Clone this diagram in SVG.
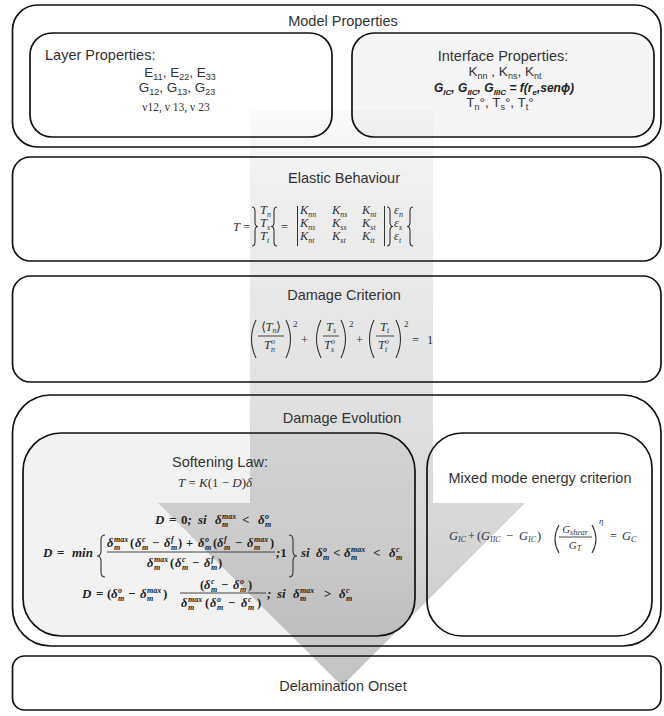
<svg xmlns="http://www.w3.org/2000/svg" width="664" height="716" viewBox="0 0 664 716">
<defs>
<linearGradient id="ag" gradientUnits="userSpaceOnUse" x1="0" y1="110" x2="0" y2="686">
<stop offset="0" stop-color="#fbfbfb"/>
<stop offset="0.15" stop-color="#eeeeee"/>
<stop offset="0.5" stop-color="#e1e1e1"/>
<stop offset="0.75" stop-color="#d6d6d6"/>
<stop offset="1" stop-color="#c2c2c2"/>
</linearGradient>
<style>
.box{fill:none;stroke:#111;stroke-width:1.7}
.t{font-family:"Liberation Sans",Arial,sans-serif;font-size:14.5px;fill:#333}
.t2{font-family:"Liberation Sans",Arial,sans-serif;font-size:13.5px;fill:#333}
.tb{font-family:"Liberation Sans",Arial,sans-serif;font-size:12px;fill:#222;font-weight:bold;font-style:italic}
.sb{font-size:9px}
.m{font-family:"Liberation Serif","Times New Roman",serif;font-style:italic;font-size:12.5px;fill:#333}
.u{font-style:normal}
.mb{font-family:"Liberation Serif","Times New Roman",serif;font-style:italic;font-weight:bold;font-size:13px;fill:#222}
.ss{font-size:8px}
.bar{stroke:#333;stroke-width:0.9}
.vb{stroke:#333;stroke-width:1}
.dl{fill:none;stroke:#333;stroke-width:1.1}
</style>
</defs>
<rect width="664" height="716" fill="#ffffff"/>

<g id="connectors">
<polygon points="250,110 433,110 433,503 525,503 342,686 158,503 250,503" fill="url(#ag)"/>
</g>

<g id="model-properties">
<rect class="box" x="12.5" y="5" width="648.5" height="142" rx="25"/>
<text class="t" x="343" y="26" text-anchor="middle">Model Properties</text>
</g>

<g id="layer-properties">
<rect class="box" x="30" y="33" width="302" height="104" rx="22"/>
<text class="t" x="45" y="60">Layer Properties:</text>
<text class="t2" x="180" y="77" text-anchor="middle">E<tspan class="sb" dy="2.5">11</tspan><tspan dy="-2.5">, E</tspan><tspan class="sb" dy="2.5">22</tspan><tspan dy="-2.5">, E</tspan><tspan class="sb" dy="2.5">33</tspan></text>
<text class="t2" x="177" y="92" text-anchor="middle">G<tspan class="sb" dy="2.5">12</tspan><tspan dy="-2.5">, G</tspan><tspan class="sb" dy="2.5">13</tspan><tspan dy="-2.5">, G</tspan><tspan class="sb" dy="2.5">23</tspan></text>
<text x="176" y="111" text-anchor="middle" style="font-family:'Liberation Serif',serif;font-size:11.5px;fill:#333">ν12, ν 13, ν 23</text>
</g>

<g id="interface-properties">
<rect class="box" x="352" y="33" width="302" height="104" rx="22" style="fill:#000;fill-opacity:0.04"/>
<text class="t" x="503" y="61" text-anchor="middle">Interface Properties:</text>
<text class="t2" x="505" y="76" text-anchor="middle">K<tspan class="sb" dy="2.5">nn</tspan><tspan dy="-2.5"> , K</tspan><tspan class="sb" dy="2.5">ns</tspan><tspan dy="-2.5">, K</tspan><tspan class="sb" dy="2.5">nt</tspan></text>
<text class="tb" x="504" y="92" text-anchor="middle">G<tspan class="sb" dy="2.5" style="font-size:8px">IC</tspan><tspan dy="-2.5">, G</tspan><tspan class="sb" dy="2.5" style="font-size:8px">IIC</tspan><tspan dy="-2.5">, G</tspan><tspan class="sb" dy="2.5" style="font-size:8px">IIIC</tspan><tspan dy="-2.5"> = f(r</tspan><tspan class="sb" dy="2.5" style="font-size:8px">e</tspan><tspan dy="-2.5">,senϕ)</tspan></text>
<text class="t2" x="500" y="107" text-anchor="middle">T<tspan class="sb" dy="2.5">n</tspan><tspan dy="-2.5">°, T</tspan><tspan class="sb" dy="2.5">s</tspan><tspan dy="-2.5">°, T</tspan><tspan class="sb" dy="2.5">t</tspan><tspan dy="-2.5">°</tspan></text>
</g>

<g id="elastic-behaviour">
<rect class="box" x="12.5" y="157" width="648.5" height="104" rx="18"/>
<text class="t" x="344" y="183" text-anchor="middle">Elastic Behaviour</text>
<text class="m" x="233" y="231">T</text>
<text class="m u" x="243" y="231">=</text>
<path class="dl" d="M252,207 Q255,207 255,211 L255,222 Q255,226.5 258,226.5 Q255,226.5 255,231 L255,242 Q255,246 252,246"/>
<text class="m" x="260" y="214">T<tspan class="ss" dy="2.5">n</tspan></text>
<text class="m" x="260" y="227">T<tspan class="ss" dy="2.5">s</tspan></text>
<text class="m" x="260" y="240">T<tspan class="ss" dy="2.5">t</tspan></text>
<path class="dl" d="M277,207 Q274,207 274,211 L274,222 Q274,226.5 271,226.5 Q274,226.5 274,231 L274,242 Q274,246 277,246"/>
<text class="m u" x="281" y="231">=</text>
<line class="vb" x1="297.5" y1="206" x2="297.5" y2="246"/>
<text class="m" x="300" y="214">K<tspan class="ss" dy="2.5">nn</tspan></text>
<text class="m" x="332" y="214">K<tspan class="ss" dy="2.5">ns</tspan></text>
<text class="m" x="362" y="214">K<tspan class="ss" dy="2.5">nt</tspan></text>
<text class="m" x="300" y="227">K<tspan class="ss" dy="2.5">ns</tspan></text>
<text class="m" x="332" y="227">K<tspan class="ss" dy="2.5">ss</tspan></text>
<text class="m" x="362" y="227">K<tspan class="ss" dy="2.5">st</tspan></text>
<text class="m" x="300" y="240">K<tspan class="ss" dy="2.5">nt</tspan></text>
<text class="m" x="332" y="240">K<tspan class="ss" dy="2.5">st</tspan></text>
<text class="m" x="362" y="240">K<tspan class="ss" dy="2.5">tt</tspan></text>
<line class="vb" x1="384.5" y1="206" x2="384.5" y2="246"/>
<path class="dl" d="M387,207 Q390,207 390,211 L390,222 Q390,226.5 393,226.5 Q390,226.5 390,231 L390,242 Q390,246 387,246"/>
<text class="m" x="394" y="214">ε<tspan class="ss" dy="2.5">n</tspan></text>
<text class="m" x="394" y="227">ε<tspan class="ss" dy="2.5">s</tspan></text>
<text class="m" x="394" y="240">ε<tspan class="ss" dy="2.5">t</tspan></text>
<path class="dl" d="M413,207 Q410,207 410,211 L410,222 Q410,226.5 407,226.5 Q410,226.5 410,231 L410,242 Q410,246 413,246"/>
</g>

<g id="damage-criterion">
<rect class="box" x="12.5" y="276" width="648.5" height="106" rx="18"/>
<text class="t" x="344" y="300" text-anchor="middle">Damage Criterion</text>
<path class="dl" d="M256,320 Q247,339 256,358"/>
<text class="m" x="271" y="331" text-anchor="middle"><tspan class="u">⟨</tspan>T<tspan class="ss" dy="2">n</tspan><tspan class="u" dy="-2">⟩</tspan></text>
<line class="bar" x1="258" y1="336" x2="284" y2="336"/>
<text class="m" x="264" y="349">T</text><text class="m ss" x="271" y="344">o</text><text class="m ss" x="271" y="352">n</text>
<path class="dl" d="M286,320 Q295,339 286,358"/>
<text class="m u" x="293" y="327" style="font-size:9px">2</text>
<text class="m u" x="301" y="344">+</text>
<path class="dl" d="M321,320 Q312,339 321,358"/>
<text class="m" x="326" y="331">T<tspan class="ss" dy="2">s</tspan></text>
<line class="bar" x1="323" y1="336" x2="339" y2="336"/>
<text class="m" x="324" y="349">T</text><text class="m ss" x="331" y="344">o</text><text class="m ss" x="331" y="352">s</text>
<path class="dl" d="M341,320 Q350,339 341,358"/>
<text class="m u" x="349" y="327" style="font-size:9px">2</text>
<text class="m u" x="356" y="344">+</text>
<path class="dl" d="M374,320 Q365,339 374,358"/>
<text class="m" x="380" y="331">T<tspan class="ss" dy="2">t</tspan></text>
<line class="bar" x1="376" y1="336" x2="394" y2="336"/>
<text class="m" x="378" y="349">T</text><text class="m ss" x="385" y="344">o</text><text class="m ss" x="385" y="352">t</text>
<path class="dl" d="M396,320 Q405,339 396,358"/>
<text class="m u" x="404" y="327" style="font-size:9px">2</text>
<text class="m u" x="412" y="344">=</text>
<text class="m u" x="427" y="344">1</text>
</g>

<g id="damage-evolution">
<rect class="box" x="12.5" y="395" width="648.5" height="251" rx="38"/>
<text class="t" x="342" y="423" text-anchor="middle">Damage Evolution</text>
</g>

<g id="softening-law">
<rect class="box" x="23" y="433" width="392" height="203" rx="38" style="fill:#000;fill-opacity:0.05"/>
<text class="t" x="220" y="467" text-anchor="middle">Softening Law:</text>
<text class="m" x="215" y="487" text-anchor="middle" style="font-size:13px">T<tspan class="u"> = </tspan>K<tspan class="u">(1 − </tspan>D<tspan class="u">)</tspan>δ</text>
<g class="mb">
<text x="155" y="524">D</text><text x="169" y="524" class="u">=</text><text x="181" y="524"><tspan class="u">0</tspan>;</text><text x="198" y="524">si</text>
<text x="215" y="524">δ</text><text class="ss" x="222" y="519">max</text><text class="ss" x="222" y="527">m</text>
<text x="242" y="524" class="u">&lt;</text>
<text x="258" y="524">δ</text><text class="ss" x="265" y="519">o</text><text class="ss" x="265" y="527">m</text>
</g>
<g class="mb">
<text x="43" y="557">D</text><text x="57" y="557" class="u">=</text><text x="72" y="557">min</text>
<path class="dl" d="M105,535 Q101,535 101,540 L101,551 Q101,556 97,556 Q101,556 101,561 L101,572 Q101,577 105,577"/>
<g style="font-size:12.5px">
<text x="107" y="547">δ</text><text class="ss" x="114" y="542">max</text><text class="ss" x="114" y="550">m</text>
<text class="u" x="130" y="547">(</text><text x="135" y="547">δ</text><text class="ss" x="142" y="542">c</text><text class="ss" x="142" y="550">m</text>
<text class="u" x="152" y="547">−</text><text x="164" y="547">δ</text><text class="ss" x="171" y="542">f</text><text class="ss" x="171" y="550">m</text><text class="u" x="178" y="547">)</text>
<text class="u" x="186" y="547">+</text>
<text x="198" y="547">δ</text><text class="ss" x="205" y="542">o</text><text class="ss" x="205" y="550">m</text>
<text class="u" x="213" y="547">(</text><text x="217" y="547">δ</text><text class="ss" x="224" y="542">f</text><text class="ss" x="224" y="550">m</text>
<text class="u" x="235" y="547">−</text><text x="247" y="547">δ</text><text class="ss" x="254" y="542">max</text><text class="ss" x="254" y="550">m</text><text class="u" x="270" y="547">)</text>
</g>
<line class="bar" x1="107" y1="552" x2="275" y2="552"/>
<g style="font-size:12.5px">
<text x="147" y="567">δ</text><text class="ss" x="154" y="562">max</text><text class="ss" x="154" y="570">m</text>
<text class="u" x="170" y="567">(</text><text x="175" y="567">δ</text><text class="ss" x="182" y="562">c</text><text class="ss" x="182" y="570">m</text>
<text class="u" x="192" y="567">−</text><text x="204" y="567">δ</text><text class="ss" x="211" y="562">f</text><text class="ss" x="211" y="570">m</text><text class="u" x="218" y="567">)</text>
</g>
<text x="276" y="557">;<tspan class="u">1</tspan></text>
<path class="dl" d="M289,535 Q293,535 293,540 L293,551 Q293,556 297,556 Q293,556 293,561 L293,572 Q293,577 289,577"/>
<text x="301" y="557">si</text>
<text x="316" y="557">δ</text><text class="ss" x="323" y="552">o</text><text class="ss" x="323" y="560">m</text>
<text class="u" x="333" y="557">&lt;</text>
<text x="344" y="557">δ</text><text class="ss" x="351" y="552">max</text><text class="ss" x="351" y="560">m</text>
<text class="u" x="373" y="557">&lt;</text>
<text x="389" y="557">δ</text><text class="ss" x="396" y="552">c</text><text class="ss" x="396" y="560">m</text>
</g>
<g class="mb">
<text x="82" y="598">D</text><text x="96" y="598" class="u">=</text>
<text class="u" x="107" y="598">(</text><text x="111" y="598">δ</text><text class="ss" x="118" y="593">o</text><text class="ss" x="118" y="601">m</text>
<text class="u" x="128" y="598">−</text><text x="140" y="598">δ</text><text class="ss" x="147" y="593">max</text><text class="ss" x="147" y="601">m</text><text class="u" x="163" y="598">)</text>
<g style="font-size:12.5px">
<text class="u" x="200" y="589">(</text><text x="204" y="589">δ</text><text class="ss" x="211" y="584">c</text><text class="ss" x="211" y="592">m</text>
<text class="u" x="221" y="589">−</text><text x="233" y="589">δ</text><text class="ss" x="240" y="584">o</text><text class="ss" x="240" y="592">m</text><text class="u" x="248" y="589">)</text>
</g>
<line class="bar" x1="180" y1="593" x2="266" y2="593"/>
<g style="font-size:12.5px">
<text x="181" y="607">δ</text><text class="ss" x="188" y="602">max</text><text class="ss" x="188" y="610">m</text>
<text class="u" x="205" y="607">(</text><text x="210" y="607">δ</text><text class="ss" x="217" y="602">o</text><text class="ss" x="217" y="610">m</text>
<text class="u" x="228" y="607">−</text><text x="241" y="607">δ</text><text class="ss" x="248" y="602">c</text><text class="ss" x="248" y="610">m</text><text class="u" x="257" y="607">)</text>
</g>
<text x="267" y="598">;</text><text x="277" y="598">si</text>
<text x="293" y="598">δ</text><text class="ss" x="300" y="593">max</text><text class="ss" x="300" y="601">m</text>
<text class="u" x="324" y="598">&gt;</text>
<text x="339" y="598">δ</text><text class="ss" x="346" y="593">c</text><text class="ss" x="346" y="601">m</text>
</g>
</g>

<g id="mixed-mode-energy-criterion">
<rect class="box" x="427" y="433" width="225" height="203" rx="35"/>
<text class="t" x="540" y="483" text-anchor="middle">Mixed mode energy criterion</text>
<text class="m" x="449" y="540">G<tspan class="ss" dy="2">IC</tspan></text>
<text class="m u" x="468" y="540">+</text>
<text class="m u" x="477" y="540">(</text>
<text class="m" x="481" y="540">G<tspan class="ss" dy="2">IIC</tspan></text>
<text class="m u" x="506" y="540">−</text>
<text class="m" x="519" y="540">G<tspan class="ss" dy="2">IC</tspan></text>
<text class="m u" x="537" y="540">)</text>
<path class="dl" d="M559,525 Q551,539 559,553"/>
<text class="m" x="575" y="533" text-anchor="middle" style="font-size:11px">G<tspan class="ss" dy="2">shear</tspan></text>
<line class="bar" x1="559" y1="537" x2="592" y2="537"/>
<text class="m" x="575" y="549" text-anchor="middle" style="font-size:11px">G<tspan class="ss" dy="2">T</tspan></text>
<path class="dl" d="M592,525 Q600,539 592,553"/>
<text class="m" x="599" y="524" style="font-size:9px">η</text>
<text class="m u" x="610" y="540">=</text>
<text class="m" x="622" y="540">G<tspan class="ss" dy="2">C</tspan></text>
</g>

<g id="delamination-onset">
<rect class="box" x="12.5" y="656" width="648.5" height="54" rx="12"/>
<text class="t" x="343" y="691" text-anchor="middle">Delamination Onset</text>
</g>
</svg>
